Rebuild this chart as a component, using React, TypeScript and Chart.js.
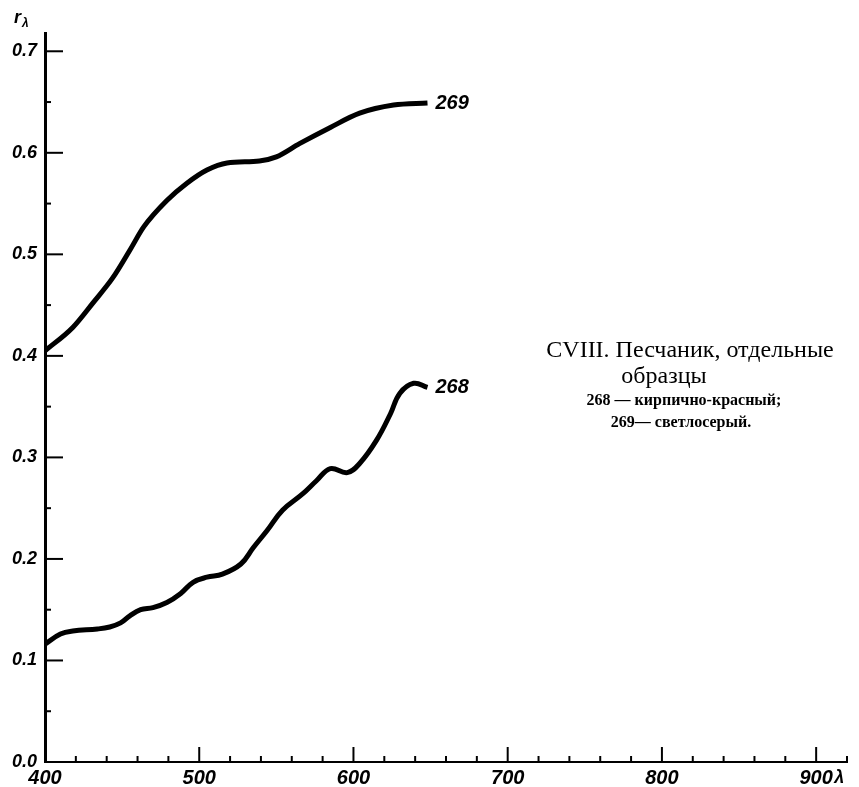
import React, { useEffect, useRef } from "react";
import { Chart, registerables } from "chart.js";

Chart.register(...registerables);

const wavelength269 = [400, 418, 431, 444, 455, 464, 479, 492, 505, 518, 539, 550, 565, 585, 604, 626, 648];
const reflect269 = [0.405, 0.428, 0.452, 0.477, 0.504, 0.527, 0.553, 0.570, 0.583, 0.590, 0.592, 0.596, 0.609, 0.625, 0.639, 0.647, 0.649];

const wavelength268 = [400, 410, 418, 434, 442, 449, 455, 462, 470, 479, 488, 496, 505, 515, 527, 535, 544, 554, 567, 576, 585, 596, 604, 615, 624, 630, 639, 648];
const reflect268 = [0.116, 0.126, 0.129, 0.131, 0.133, 0.137, 0.144, 0.150, 0.152, 0.157, 0.166, 0.177, 0.182, 0.185, 0.195, 0.211, 0.228, 0.248, 0.264, 0.277, 0.289, 0.285, 0.294, 0.317, 0.343, 0.363, 0.373, 0.369];

const seriesLabels = ["269", "268"];
const titleLines = ["CVIII. Песчаник, отдельные", "образцы"];
const legendLines = ["268 — кирпично-красный;", "269— светлосерый."];

const X_MIN = 400;
const X_MAX = 920;
const Y_MIN = 0;
const Y_MAX = 0.718;

const annotPlugin = {
  id: "annot",
  afterDraw(chart: any) {
    const ctx = chart.ctx;
    const xs = chart.scales.x;
    const ys = chart.scales.y;
    const area = chart.chartArea;
    ctx.save();
    ctx.strokeStyle = "#000";
    ctx.fillStyle = "#000";
    ctx.lineWidth = 2;
    ys.ticks.forEach((t: any) => {
      const v = t.value;
      if (v <= 0.001) return;
      const major = Math.abs(v * 10 - Math.round(v * 10)) < 1e-6;
      const py = ys.getPixelForValue(v);
      ctx.beginPath();
      ctx.moveTo(area.left, py);
      ctx.lineTo(area.left + (major ? 18 : 6), py);
      ctx.stroke();
    });
    xs.ticks.forEach((t: any) => {
      const v = t.value;
      if (v <= X_MIN + 0.001) return;
      const major = Math.round(v) % 100 === 0;
      const px = xs.getPixelForValue(v);
      ctx.beginPath();
      ctx.moveTo(px, area.bottom);
      ctx.lineTo(px, area.bottom - (major ? 15 : 6));
      ctx.stroke();
    });
    ctx.font = 'bold italic 20px "Liberation Sans"';
    ctx.textBaseline = "middle";
    ctx.textAlign = "left";
    chart.data.datasets.forEach((ds: any, i: number) => {
      const meta = chart.getDatasetMeta(i);
      const last = meta.data[meta.data.length - 1];
      ctx.fillText(seriesLabels[i], last.x + 8, last.y);
    });
    ctx.font = 'bold italic 18px "Liberation Sans"';
    ctx.fillText("r", 14, 18);
    ctx.font = 'bold italic 12px "Liberation Sans"';
    ctx.fillText("λ", 22, 24);
    ctx.font = 'bold italic 18px "Liberation Sans"';
    ctx.fillText("λ", xs.getPixelForValue(900) + 18, area.bottom + 16);
    ctx.textAlign = "center";
    ctx.font = '24px "Liberation Serif"';
    ctx.fillText(titleLines[0], 690, 351);
    ctx.fillText(titleLines[1], 664, 377);
    ctx.font = 'bold 16px "Liberation Serif"';
    ctx.fillText(legendLines[0], 684, 401);
    ctx.fillText(legendLines[1], 681, 423);
    ctx.restore();
  },
};

export default function App() {
  const ref = useRef<HTMLCanvasElement | null>(null);
  useEffect(() => {
    if (!ref.current) return;
    const chart = new Chart(ref.current, {
      type: "line",
      data: {
        datasets: [
          {
            label: seriesLabels[0],
            data: wavelength269.map((x, i) => ({ x, y: reflect269[i] })),
            borderColor: "#000",
            borderWidth: 5,
            pointRadius: 0,
            cubicInterpolationMode: "monotone",
            fill: false,
          },
          {
            label: seriesLabels[1],
            data: wavelength268.map((x, i) => ({ x, y: reflect268[i] })),
            borderColor: "#000",
            borderWidth: 5,
            pointRadius: 0,
            tension: 0.4,
            fill: false,
          },
        ],
      },
      options: {
        animation: false,
        responsive: false,
        maintainAspectRatio: false,
        layout: { padding: { left: 0, right: 12, top: 33, bottom: 0 } },
        plugins: { legend: { display: false }, tooltip: { enabled: false }, title: { display: false } },
        scales: {
          x: {
            type: "linear",
            min: X_MIN,
            max: X_MAX,
            grid: { display: false, drawTicks: false },
            border: { display: true, color: "#000", width: 2 },
            ticks: {
              stepSize: 20,
              includeBounds: false,
              autoSkip: false,
              maxRotation: 0,
              padding: 4,
              color: "#000",
              font: { family: "Liberation Sans", size: 20, style: "italic", weight: "bold" },
              callback: (v: any) => (Math.round(Number(v)) % 100 === 0 && Number(v) <= 900 ? String(Math.round(Number(v))) : ""),
            },
            afterFit: (s: any) => {
              s.height = 25;
            },
          },
          y: {
            type: "linear",
            min: Y_MIN,
            max: Y_MAX,
            grid: { display: false, drawTicks: false },
            border: { display: true, color: "#000", width: 3 },
            ticks: {
              stepSize: 0.05,
              includeBounds: false,
              autoSkip: false,
              padding: 8,
              color: "#000",
              font: { family: "Liberation Sans", size: 18, style: "italic", weight: "bold" },
              callback: (v: any) => {
                const n = Number(v);
                return Math.abs(n * 10 - Math.round(n * 10)) < 1e-6 ? n.toFixed(1) : "";
              },
            },
            afterFit: (s: any) => {
              s.width = 45;
            },
          },
        },
      },
      plugins: [annotPlugin],
    });
    return () => chart.destroy();
  }, []);
  return (
    <div style={{ position: "absolute", left: 0, top: 0, width: 859, height: 787, background: "#fff" }}>
      <canvas ref={ref} width={859} height={787} style={{ width: 859, height: 787 }} />
    </div>
  );
}
